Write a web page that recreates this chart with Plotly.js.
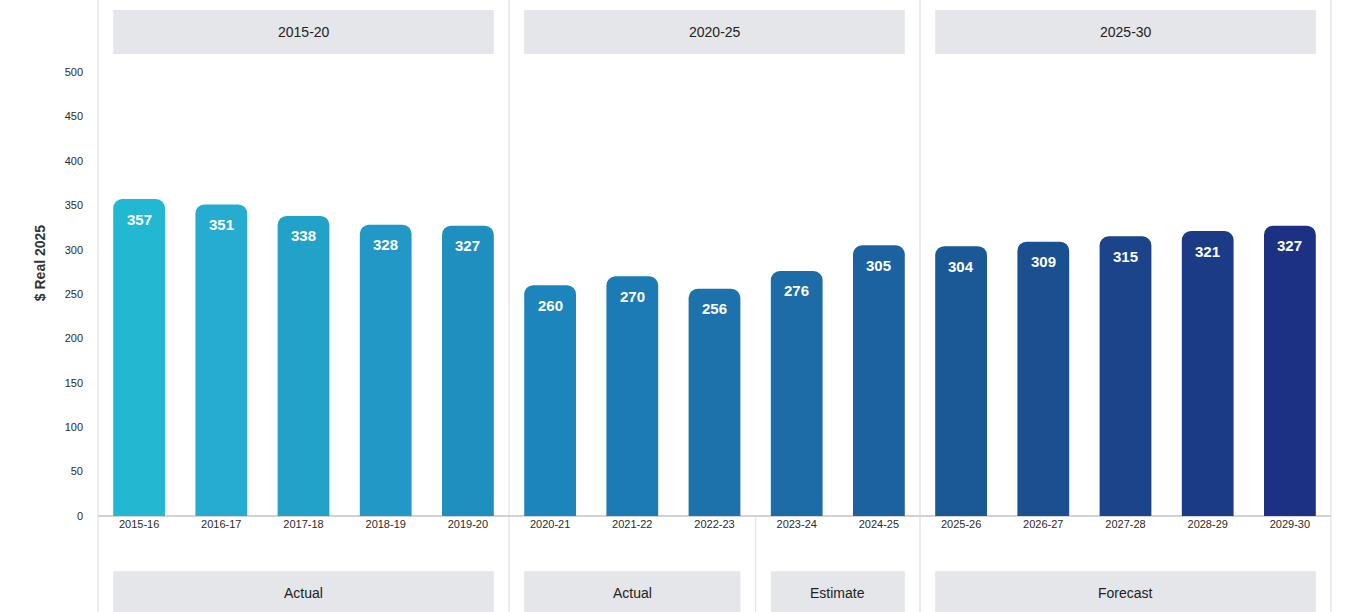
<!DOCTYPE html>
<html>
<head>
<meta charset="utf-8">
<script src="https://cdn.plot.ly/plotly-3.0.1.min.js"></script>
<style>
html,body{margin:0;padding:0;background:#fff;}
#chart{width:1346px;height:612px;}
</style>
</head>
<body>
<div id="chart"></div>
<script>
// ---- data ----
const categories = ["2015-16","2016-17","2017-18","2018-19","2019-20",
                    "2020-21","2021-22","2022-23","2023-24","2024-25",
                    "2025-26","2026-27","2027-28","2028-29","2029-30"];
const values = [357, 351, 338, 328, 327, 260, 270, 256, 276, 305, 304, 309, 315, 321, 327];
const barColors = ["#22b8d2","#25acd0","#22a2c8","#2198c5","#1f8fbf",
                   "#1c85bb","#1c7bb4","#1e72ab","#1d6ca8","#1c62a0",
                   "#1a5896","#1a4f90","#1b448a","#1c3b86","#1c3183"];
const periodLabels = ["2015-20","2020-25","2025-30"];
const periodRanges = [[0,4],[5,9],[10,14]];
const statusLabels = ["Actual","Actual","Estimate","Forecast"];
const statusRanges = [[0,4],[5,7],[8,9],[10,14]];
const yTicks = [0,50,100,150,200,250,300,350,400,450,500];
const yTitle = "$ Real 2025";

// ---- styling constants ----
const FONT = "Liberation Sans, Arial, sans-serif";
const half = 0.315;           // half bar width in category units
const boxFill = "#e4e6e9";
const sepColor = "#e6e7ea";

const trace = {
  type: "bar",
  x: categories,
  y: values,
  marker: {color: barColors, cornerradius: 9},
  hoverinfo: "x+y",
  showlegend: false
};

const shapes = [];
const annotations = [];

// value labels
values.forEach((v, i) => {
  annotations.push({
    x: categories[i], y: v, xref: "x", yref: "y",
    xanchor: "center", yanchor: "middle",
    text: String(v), showarrow: false, yshift: -20,
    font: {family: FONT, size: 15, color: "#ffffff", weight: "bold"}
  });
});

// top period boxes
periodLabels.forEach((lab, k) => {
  const [a, b] = periodRanges[k];
  shapes.push({type: "rect", xref: "x", yref: "paper",
    x0: a - half, x1: b + half, y0: 0.913, y1: 1.0,
    fillcolor: boxFill, line: {width: 0}, layer: "below"});
  annotations.push({x: (a + b) / 2, y: 0.9565, xref: "x", yref: "paper",
    xanchor: "center", yanchor: "middle",
    text: lab, showarrow: false,
    font: {family: FONT, size: 14, color: "#222222"}});
});

// bottom status boxes
statusLabels.forEach((lab, k) => {
  const [a, b] = statusRanges[k];
  shapes.push({type: "rect", xref: "x", yref: "paper",
    x0: a - half, x1: b + half, y0: -0.195, y1: -0.109,
    fillcolor: boxFill, line: {width: 0}, layer: "below"});
  annotations.push({x: (a + b) / 2, y: -0.152, xref: "x", yref: "paper",
    xanchor: "center", yanchor: "middle",
    text: lab, showarrow: false,
    font: {family: FONT, size: 14, color: "#222222"}});
});

// full-height separators between periods
[4.5, 9.5].forEach(xv => {
  shapes.push({type: "line", xref: "x", yref: "paper",
    x0: xv, x1: xv, y0: -0.2, y1: 1.02,
    line: {color: sepColor, width: 1.5}, layer: "below"});
});
// separator between Actual and Estimate (below axis only)
shapes.push({type: "line", xref: "x", yref: "paper",
  x0: 7.5, x1: 7.5, y0: -0.2, y1: 0,
  line: {color: sepColor, width: 1.5}, layer: "below"});
// outer edges
[0, 1].forEach(xv => {
  shapes.push({type: "line", xref: "paper", yref: "paper",
    x0: xv, x1: xv, y0: -0.2, y1: 1.02,
    line: {color: sepColor, width: 1.5}, layer: "below"});
});

const layout = {
  width: 1346, height: 612,
  margin: {l: 98, r: 15, t: 10, b: 96},
  paper_bgcolor: "#ffffff",
  plot_bgcolor: "#ffffff",
  bargap: 0.37,
  font: {family: FONT, color: "#333333"},
  xaxis: {
    type: "category",
    range: [-0.5, 14.5],
    showgrid: false, zeroline: false, showline: false,
    ticks: "", tickfont: {family: FONT, size: 11, color: "#2a2a2a"},
    fixedrange: true
  },
  yaxis: {
    range: [0, 570],
    tickvals: yTicks,
    ticktext: yTicks.map(String),
    showgrid: false,
    zeroline: true, zerolinecolor: "#cfd2d6", zerolinewidth: 1.5,
    showline: false, ticks: "",
    ticklabelstandoff: 14,
    tickfont: {family: FONT, size: 11, color: "#2a2a2a"},
    title: {text: yTitle, standoff: 15,
      font: {family: FONT, size: 14, color: "#333333", weight: "bold"}},
    fixedrange: true
  },
  shapes: shapes,
  annotations: annotations
};

Plotly.newPlot("chart", [trace], layout, {displayModeBar: false, staticPlot: true});
</script>
</body>
</html>
